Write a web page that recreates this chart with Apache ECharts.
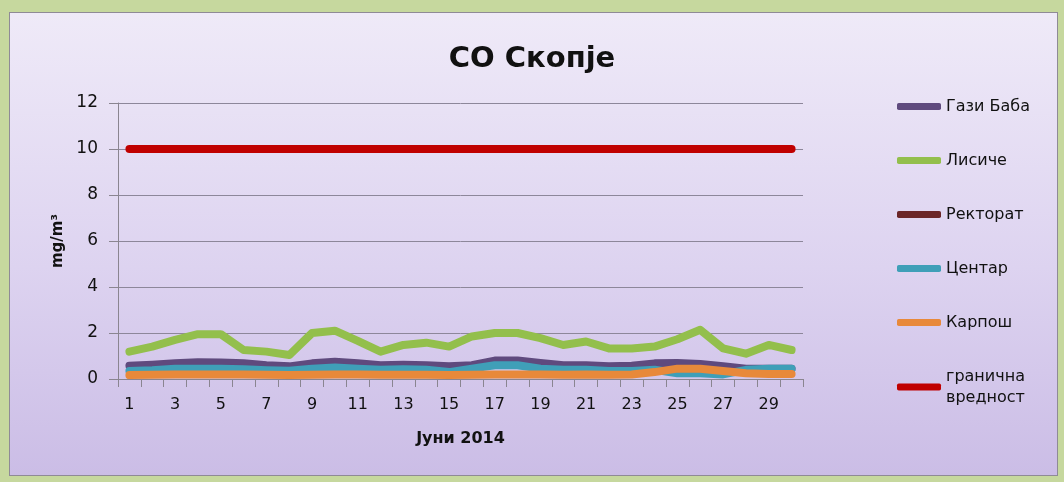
<!DOCTYPE html>
<html>
<head>
<meta charset="utf-8">
<script src="https://cdn.jsdelivr.net/npm/echarts@6/dist/echarts.min.js"></script>
<style>
  html, body { margin: 0; padding: 0; background: #c6d89e; }
  #panel {
    position: absolute; left: 9px; top: 12px; width: 1047px; height: 462px;
    border: 1px solid #8f8a96;
    background: linear-gradient(to bottom, #efeaf8 0%, #ddd3f0 55%, #cbbde6 100%);
  }
  #coChart { position: absolute; left: 0; top: 0; width: 1064px; height: 482px; }
</style>
</head>
<body>
<div id="panel"></div>
<div id="coChart"></div>
<script>
// денови во јуни 2014
var days = [];
for (var d = 1; d <= 30; d++) days.push(String(d));

// mg/m3, отчитано од сликата
var gaziBaba = [0.58, 0.62, 0.68, 0.73, 0.72, 0.68, 0.6, 0.55, 0.68, 0.75, 0.68, 0.6, 0.62, 0.6, 0.55, 0.6, 0.8, 0.8, 0.7, 0.6, 0.6, 0.55, 0.58, 0.68, 0.7, 0.65, 0.55, 0.45, 0.45, 0.45];
var lisice = [1.19, 1.41, 1.7, 1.95, 1.95, 1.26, 1.19, 1.04, 2.0, 2.1, 1.66, 1.19, 1.48, 1.58, 1.41, 1.85, 2.0, 2.0, 1.78, 1.48, 1.63, 1.33, 1.33, 1.41, 1.73, 2.14, 1.33, 1.1, 1.48, 1.26];
var rektorat = [];
var centar = [0.35, 0.38, 0.45, 0.45, 0.45, 0.42, 0.38, 0.36, 0.45, 0.5, 0.45, 0.4, 0.42, 0.4, 0.3, 0.45, 0.6, 0.6, 0.45, 0.4, 0.4, 0.35, 0.35, 0.4, 0.25, 0.25, 0.2, 0.4, 0.45, 0.45];
var karpos = [0.17, 0.18, 0.2, 0.2, 0.2, 0.2, 0.18, 0.17, 0.18, 0.2, 0.2, 0.18, 0.18, 0.18, 0.17, 0.18, 0.2, 0.2, 0.2, 0.18, 0.2, 0.18, 0.2, 0.3, 0.45, 0.45, 0.35, 0.25, 0.22, 0.22];
var granicna = [10, 10, 10, 10, 10, 10, 10, 10, 10, 10, 10, 10, 10, 10, 10, 10, 10, 10, 10, 10, 10, 10, 10, 10, 10, 10, 10, 10, 10, 10];

var seriesNames = ['Гази Баба', 'Лисиче', 'Ректорат', 'Центар', 'Карпош', 'гранична вредност'];
var seriesData = [gaziBaba, lisice, rektorat, centar, karpos, granicna];
var colors = ['#5f4a7e', '#93bf4c', '#6b2628', '#3f9fb8', '#e8893a', '#c00000'];

var fontFam = '"DejaVu Sans", sans-serif';

var myChart = echarts.init(document.getElementById('coChart'));
myChart.setOption({
  backgroundColor: 'transparent',
  animation: false,
  color: colors,
  title: {
    text: 'CO Скопје',
    left: 'center',
    top: 40,
    textStyle: { fontFamily: fontFam, fontSize: 29, fontWeight: 'bold', color: '#111' }
  },
  grid: { left: 118, right: 261, top: 103, bottom: 103 },
  legend: {
    orient: 'vertical',
    left: 892,
    top: 91,
    itemWidth: 44,
    itemHeight: 7,
    itemGap: 33,
    icon: 'roundRect',
    textStyle: { fontFamily: fontFam, fontSize: 16, color: '#111', lineHeight: 21 },
    formatter: function (name) {
      return name === 'гранична вредност' ? 'гранична\nвредност' : name;
    },
    data: seriesNames
  },
  xAxis: {
    type: 'category',
    data: days,
    name: 'Јуни 2014',
    nameLocation: 'middle',
    nameGap: 52,
    nameTextStyle: { fontFamily: fontFam, fontSize: 16, fontWeight: 'bold', color: '#111' },
    axisLine: { lineStyle: { color: '#8a8590', width: 1 } },
    axisTick: { show: true, interval: 0, length: 8, lineStyle: { color: '#8a8590' } },
    axisLabel: { interval: 1, margin: 18, fontFamily: fontFam, fontSize: 16, color: '#111' }
  },
  yAxis: {
    type: 'value',
    min: 0,
    max: 12,
    interval: 2,
    name: 'mg/m³',
    nameLocation: 'middle',
    nameGap: 52,
    nameTextStyle: { fontFamily: fontFam, fontSize: 15, fontWeight: 'bold', color: '#111' },
    axisLine: { show: true, lineStyle: { color: '#8a8590', width: 1 } },
    axisTick: { show: true, length: 9, lineStyle: { color: '#8a8590' } },
    axisLabel: { margin: 20, fontFamily: fontFam, fontSize: 17, color: '#111' },
    splitLine: { lineStyle: { color: '#8d879a', width: 1 } }
  },
  series: seriesNames.map(function (n, i) {
    return {
      name: n,
      type: 'line',
      data: seriesData[i],
      showSymbol: false,
      symbol: 'none',
      lineStyle: { width: 8, cap: 'round', join: 'round', color: colors[i] },
      itemStyle: { color: colors[i] }
    };
  })
});
</script>
</body>
</html>
